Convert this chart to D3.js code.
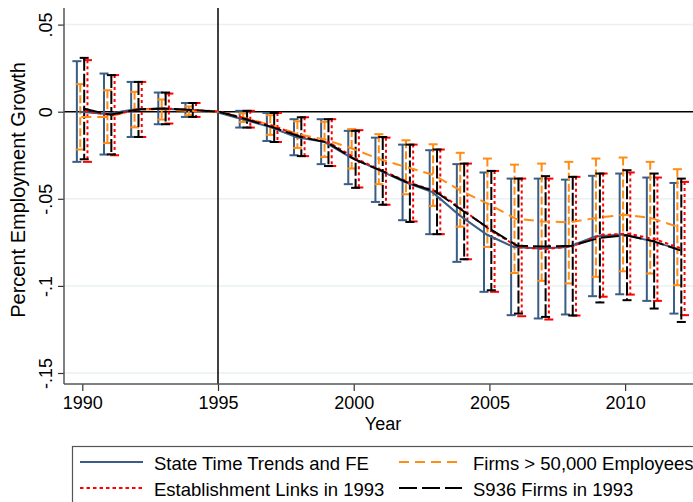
<!DOCTYPE html>
<html>
<head>
<meta charset="utf-8">
<script src="https://cdn.jsdelivr.net/npm/d3@7"></script>
<style>
  body { margin: 0; background: #fff; }
  svg { display: block; font-family: "Liberation Sans", Arial, sans-serif; }
</style>
</head>
<body>
<div id="chart"></div>
<script>
// Years and tick labels
const years = [1990, 1991, 1992, 1993, 1994, 1995, 1996, 1997, 1998, 1999, 2000, 2001,
               2002, 2003, 2004, 2005, 2006, 2007, 2008, 2009, 2010, 2011, 2012];
const xTicks = [1990, 1995, 2000, 2005, 2010];
const yTicks = [-0.15, -0.1, -0.05, 0, 0.05];
const yTickLabels = ["-.15", "-.1", "-.05", "0", ".05"];

// State Time Trends and FE
const stateEst = [0.0000, -0.0013, 0.0013, 0.0019, 0.0010, 0, -0.0043, -0.0087, -0.0147, -0.0172, -0.0263, -0.0333,
                  -0.0406, -0.0462, -0.0595, -0.0705, -0.0777, -0.0786, -0.0777, -0.0717, -0.0705, -0.0740, -0.0786];
const stateLo = [-0.0288, -0.0246, -0.0145, -0.0072, -0.0030, null, -0.0091, -0.0168, -0.0250, -0.0301, -0.0416, -0.0518,
                 -0.0623, -0.0703, -0.0862, -0.1034, -0.1168, -0.1187, -0.1164, -0.1059, -0.1048, -0.1086, -0.1159];
const stateHi = [0.0290, 0.0219, 0.0171, 0.0110, 0.0050, null, 0.0005, -0.0007, -0.0043, -0.0043, -0.0110, -0.0149,
                 -0.0189, -0.0221, -0.0301, -0.0349, -0.0384, -0.0384, -0.0390, -0.0368, -0.0355, -0.0378, -0.0409];

// Firms > 50,000 Employees
const firmsEst = [-0.0030, -0.0030, 0.0012, 0.0013, 0.0005, 0, -0.0035, -0.0077, -0.0130, -0.0160, -0.0213, -0.0273,
                  -0.0319, -0.0364, -0.0455, -0.0530, -0.0614, -0.0630, -0.0635, -0.0609, -0.0591, -0.0611, -0.0662];
const firmsLo = [-0.0217, -0.0180, -0.0090, -0.0045, -0.0020, null, -0.0059, -0.0133, -0.0208, -0.0260, -0.0326, -0.0416,
                 -0.0474, -0.0541, -0.0660, -0.0776, -0.0926, -0.0971, -0.0986, -0.0948, -0.0916, -0.0929, -0.0996];
const firmsHi = [0.0158, 0.0123, 0.0114, 0.0070, 0.0030, null, -0.0010, -0.0020, -0.0055, -0.0058, -0.0100, -0.0129,
                 -0.0164, -0.0187, -0.0236, -0.0269, -0.0304, -0.0298, -0.0288, -0.0269, -0.0263, -0.0288, -0.0330];

// Establishment Links in 1993
const estabEst = [0.0004, -0.0020, 0.0013, 0.0018, 0.0010, 0, -0.0043, -0.0085, -0.0144, -0.0177, -0.0270, -0.0341,
                  -0.0410, -0.0460, -0.0572, -0.0687, -0.0779, -0.0788, -0.0772, -0.0708, -0.0700, -0.0732, -0.0786];
const estabLo = [-0.0288, -0.0250, -0.0145, -0.0068, -0.0030, null, -0.0091, -0.0174, -0.0255, -0.0312, -0.0435, -0.0534,
                 -0.0630, -0.0703, -0.0847, -0.1034, -0.1174, -0.1193, -0.1170, -0.1062, -0.1050, -0.1086, -0.1168];
const estabHi = [0.0296, 0.0210, 0.0171, 0.0104, 0.0050, null, 0.0005, -0.0007, -0.0032, -0.0043, -0.0106, -0.0149,
                 -0.0189, -0.0217, -0.0298, -0.0340, -0.0384, -0.0384, -0.0374, -0.0355, -0.0349, -0.0378, -0.0403];

// S936 Firms in 1993
const s936Est = [0.0018, -0.0018, 0.0013, 0.0019, 0.0010, 0, -0.0043, -0.0090, -0.0144, -0.0177, -0.0274, -0.0340,
                 -0.0410, -0.0460, -0.0570, -0.0675, -0.0770, -0.0774, -0.0770, -0.0725, -0.0709, -0.0743, -0.0796];
const s936Lo = [-0.0273, -0.0245, -0.0145, -0.0072, -0.0030, null, -0.0091, -0.0174, -0.0255, -0.0312, -0.0437, -0.0534,
                -0.0633, -0.0703, -0.0847, -0.1025, -0.1159, -0.1178, -0.1170, -0.1095, -0.1082, -0.1130, -0.1207];
const s936Hi = [0.0309, 0.0210, 0.0171, 0.0110, 0.0050, null, 0.0005, -0.0007, -0.0032, -0.0043, -0.0110, -0.0145,
                -0.0189, -0.0217, -0.0298, -0.0340, -0.0384, -0.0370, -0.0374, -0.0355, -0.0336, -0.0355, -0.0384];

// Series styles (offset is in years, so the bars sit side by side)
const series = [
    { name: "State Time Trends and FE", est: stateEst, lo: stateLo, hi: stateHi,
      color: "#395d85", dash: null, barDash: null, offset: -0.2 },
    { name: "Firms > 50,000 Employees", est: firmsEst, lo: firmsLo, hi: firmsHi,
      color: "#ff8c14", dash: "10,6", barDash: "8,3", offset: -0.075 },
    { name: "Establishment Links in 1993", est: estabEst, lo: estabLo, hi: estabHi,
      color: "#ff0000", dash: "3.5,3", barDash: "3,3", offset: 0.19 },
    { name: "S936 Firms in 1993", est: s936Est, lo: s936Lo, hi: s936Hi,
      color: "#000000", dash: "18,5", barDash: "13,3", offset: 0.07 }
];

const W = 693, H = 502;
const plot = { left: 64, right: 702, top: 8, bottom: 384 };

const svg = d3.select("#chart")
    .append("svg")
    .attr("width", W)
    .attr("height", H);

// Scales
const x = d3.scaleLinear().domain([1990, 2012]).range([82.3, 679.4]);
const y = d3.scaleLinear().domain([-0.15, 0.05]).range([373, 24.6]);

// Grid lines
svg.append("g")
    .selectAll("line")
    .data(yTicks.filter(d => d !== 0))
    .enter()
    .append("line")
    .attr("x1", plot.left)
    .attr("x2", plot.right)
    .attr("y1", d => y(d))
    .attr("y2", d => y(d))
    .attr("stroke", "#eaf0f3")
    .attr("stroke-width", 1.5);

// Reference lines: zero and 1995
svg.append("line")
    .attr("x1", plot.left).attr("x2", plot.right)
    .attr("y1", y(0)).attr("y2", y(0))
    .attr("stroke", "#000").attr("stroke-width", 1.5);

svg.append("line")
    .attr("x1", x(1995)).attr("x2", x(1995))
    .attr("y1", plot.top).attr("y2", plot.bottom)
    .attr("stroke", "#000").attr("stroke-width", 1.5);

// Y axis
const yAxis = svg.append("g")
    .attr("transform", `translate(${plot.left},0)`)
    .call(d3.axisLeft(y)
        .tickValues(yTicks)
        .tickFormat((d, i) => yTickLabels[i])
        .tickSize(6)
        .tickSizeOuter(0));
yAxis.select(".domain").remove();
yAxis.selectAll(".tick line").attr("stroke", "#333").attr("stroke-width", 1.2);
yAxis.selectAll(".tick text")
    .attr("x", 0)
    .attr("dy", 0)
    .attr("transform", "translate(-12,0) rotate(-90)")
    .attr("text-anchor", "middle")
    .attr("fill", "#000")
    .style("font-size", "18px");

// X axis
const xAxis = svg.append("g")
    .attr("transform", `translate(0,${plot.bottom})`)
    .call(d3.axisBottom(x)
        .tickValues(xTicks)
        .tickFormat(d3.format("d"))
        .tickSize(7)
        .tickSizeOuter(0));
xAxis.select(".domain").remove();
xAxis.selectAll(".tick line").attr("stroke", "#333").attr("stroke-width", 1.2);
xAxis.selectAll(".tick text")
    .attr("y", 25)
    .attr("dy", 0)
    .attr("fill", "#000")
    .style("font-size", "18px");

// Axis lines
svg.append("line")
    .attr("x1", plot.left).attr("x2", plot.left)
    .attr("y1", plot.top).attr("y2", plot.bottom)
    .attr("stroke", "#555").attr("stroke-width", 1.5);
svg.append("line")
    .attr("x1", plot.left).attr("x2", plot.right)
    .attr("y1", plot.bottom).attr("y2", plot.bottom)
    .attr("stroke", "#555").attr("stroke-width", 1.5);

// Axis titles
svg.append("text")
    .attr("x", (plot.left + plot.right) / 2)
    .attr("y", 430)
    .attr("text-anchor", "middle")
    .style("font-size", "18px")
    .text("Year");

svg.append("text")
    .attr("transform", "translate(25,190) rotate(-90)")
    .attr("text-anchor", "middle")
    .style("font-size", "20px")
    .text("Percent Employment Growth");

// Error bars for each series
series.forEach(s => {
    const g = svg.append("g").attr("class", "bars");
    const pts = years.map((yr, i) => ({ yr, lo: s.lo[i], hi: s.hi[i] })).filter(d => d.lo !== null);
    const cx = d => x(d.yr + s.offset);

    g.selectAll("line.bar")
        .data(pts)
        .enter()
        .append("line")
        .attr("class", "bar")
        .attr("x1", cx).attr("x2", cx)
        .attr("y1", d => y(d.hi)).attr("y2", d => y(d.lo))
        .attr("stroke", s.color)
        .attr("stroke-width", 2)
        .attr("stroke-dasharray", s.barDash);

    ["hi", "lo"].forEach(k => {
        g.selectAll("line.cap-" + k)
            .data(pts)
            .enter()
            .append("line")
            .attr("class", "cap-" + k)
            .attr("x1", d => cx(d) - 4.5).attr("x2", d => cx(d) + 4.5)
            .attr("y1", d => y(d[k])).attr("y2", d => y(d[k]))
            .attr("stroke", s.color)
            .attr("stroke-width", 2);
    });
});

// Point estimate lines
const line = d3.line()
    .x(d => x(d.yr))
    .y(d => y(d.v));

series.forEach(s => {
    svg.append("path")
        .datum(years.map((yr, i) => ({ yr: yr + s.offset * 0.5, v: s.est[i] })))
        .attr("d", line)
        .attr("fill", "none")
        .attr("stroke", s.color)
        .attr("stroke-width", 2)
        .attr("stroke-dasharray", s.dash);
});

// Legend
const legend = svg.append("g");
legend.append("rect")
    .attr("x", 72.5).attr("y", 446.5)
    .attr("width", 700).attr("height", 80)
    .attr("fill", "#fff")
    .attr("stroke", "#555")
    .attr("stroke-width", 1.2);

const legendPos = [
    { lx: 80, tx: 154, ly: 462 },
    { lx: 399, tx: 473, ly: 462 },
    { lx: 80, tx: 154, ly: 488 },
    { lx: 399, tx: 473, ly: 488 }
];

series.forEach((s, i) => {
    const p = legendPos[i];
    legend.append("line")
        .attr("x1", p.lx).attr("x2", p.lx + 63)
        .attr("y1", p.ly).attr("y2", p.ly)
        .attr("stroke", s.color)
        .attr("stroke-width", 2)
        .attr("stroke-dasharray", s.dash);
    legend.append("text")
        .attr("x", p.tx)
        .attr("y", p.ly + 8)
        .style("font-size", "18.5px")
        .text(s.name);
});
</script>
</body>
</html>
